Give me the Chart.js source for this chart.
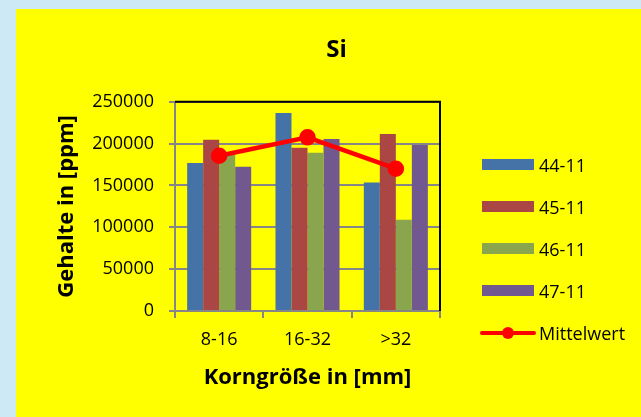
<!DOCTYPE html>
<html>
<head>
<meta charset="utf-8">
<script src="https://cdn.jsdelivr.net/npm/chart.js@4"></script>
<style>
  body { margin: 0; background: #cde9f6; overflow: hidden; font-family: 'Open Sans', sans-serif; }
  #frame { position: absolute; left: 16px; top: 9px; width: 641px; height: 408px; background: #ffff00; }
  #si-chart { position: absolute; left: 0; top: 0; }
  .legend-row { position: absolute; left: 464px; height: 22px; width: 170px; font-size: 18px; line-height: 22px; color: #000; }
  .legend-row .box { position: absolute; left: 2px; top: 5px; width: 52px; height: 11px; }
  .legend-row .label { position: absolute; left: 59px; top: 0; white-space: nowrap; }
  .legend-row .line { position: absolute; left: 0; top: 9px; width: 56px; height: 4px; background: #ff0000; border-radius: 2px; }
  .legend-row .dot { position: absolute; left: 22px; top: 5px; width: 12px; height: 12px; border-radius: 6px; background: #ff0000; }
</style>
</head>
<body>
<div id="frame">
  <canvas id="si-chart" width="641" height="408"></canvas>
  <div id="legend"></div>
</div>
<script>
  const categories = ["8-16", "16-32", ">32"];
  const seriesNames = ["44-11", "45-11", "46-11", "47-11"];
  const values4411 = [177000, 236500, 153500];
  const values4511 = [204500, 195000, 211500];
  const values4611 = [187000, 189000, 109000];
  const values4711 = [172500, 205500, 198500];
  const mittelwert = [185500, 207500, 170000];
  const yTickValues = [0, 50000, 100000, 150000, 200000, 250000];

  const barColors = ["#4572a7", "#aa4643", "#89a54e", "#71588f"];
  const red = "#ff0000";
  const axisGray = "#868686";

  Chart.defaults.font.family = "'Open Sans', sans-serif";
  Chart.defaults.color = "#000000";

  const barSeries = [values4411, values4511, values4611, values4711];

  const datasets = barSeries.map(function (vals, i) {
    return {
      type: "bar",
      label: seriesNames[i],
      data: vals,
      backgroundColor: barColors[i],
      borderWidth: 0,
      categoryPercentage: 0.725,
      barPercentage: 1,
      order: 1
    };
  });

  datasets.push({
    type: "line",
    label: "Mittelwert",
    data: mittelwert,
    borderColor: red,
    backgroundColor: red,
    borderWidth: 4.5,
    pointRadius: 6,
    pointBackgroundColor: red,
    pointBorderColor: red,
    tension: 0,
    order: 0
  });

  // black frame on top and right of the plot area
  const areaFrame = {
    id: "areaFrame",
    afterDraw(chart) {
      const a = chart.chartArea;
      const ctx = chart.ctx;
      ctx.save();
      ctx.strokeStyle = "#000000";
      ctx.lineWidth = 2;
      ctx.beginPath();
      ctx.moveTo(a.left, a.top);
      ctx.lineTo(a.right, a.top);
      ctx.lineTo(a.right, a.bottom);
      ctx.stroke();
      ctx.restore();
    }
  };

  new Chart(document.getElementById("si-chart"), {
    data: { labels: categories, datasets: datasets },
    plugins: [areaFrame],
    options: {
      responsive: false,
      animation: false,
      plugins: {
        legend: { display: false },
        tooltip: { enabled: false },
        title: {
          display: true,
          text: "Si",
          font: { size: 24, weight: "bold" },
          padding: { top: 27, bottom: 37 }
        }
      },
      scales: {
        x: {
          offset: true,
          grid: { offset: true, drawOnChartArea: false, drawTicks: true, tickLength: 7, color: axisGray, lineWidth: 2 },
          border: { color: axisGray, width: 2 },
          ticks: { font: { size: 18 }, padding: 11 },
          title: {
            display: true,
            text: "Korngröße in [mm]",
            font: { size: 22, weight: "bold" },
            padding: { top: 10, bottom: 26 }
          },
          afterFit(scale) { scale.height = 106; }
        },
        y: {
          min: 0,
          max: 250000,
          grid: { color: axisGray, lineWidth: 2, tickLength: 6 },
          border: { color: axisGray, width: 2 },
          ticks: {
            font: { size: 18 },
            padding: 15,
            callback: function (v) { return String(v); }
          },
          afterBuildTicks(scale) {
            scale.ticks = yTickValues.map(function (v) { return { value: v }; });
          },
          title: {
            display: true,
            text: "Gehalte in [ppm]",
            font: { size: 22, weight: "bold" },
            padding: { top: 38, bottom: 4 }
          },
          afterFit(scale) { scale.width = 159; }
        },
        // empty right-hand axis that keeps room for the legend
        legendSpace: {
          type: "linear",
          position: "right",
          display: true,
          grid: { display: false },
          border: { display: false },
          ticks: { display: false },
          afterFit(scale) { scale.width = 217; }
        }
      }
    }
  });

  // legend at the right, built from the same names and colours
  const legend = document.getElementById("legend");
  const rowTops = [145, 187, 229, 271, 313];
  seriesNames.forEach(function (name, i) {
    const row = document.createElement("div");
    row.className = "legend-row";
    row.style.top = rowTops[i] + "px";
    row.innerHTML = '<span class="box" style="background:' + barColors[i] + '"></span><span class="label"></span>';
    row.querySelector(".label").textContent = name;
    legend.appendChild(row);
  });
  const meanRow = document.createElement("div");
  meanRow.className = "legend-row";
  meanRow.style.top = rowTops[4] + "px";
  meanRow.innerHTML = '<span class="line"></span><span class="dot"></span><span class="label">Mittelwert</span>';
  legend.appendChild(meanRow);
</script>
</body>
</html>
